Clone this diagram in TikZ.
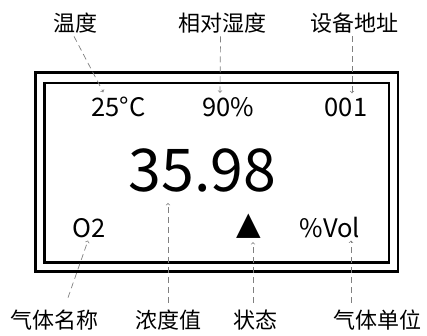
\documentclass[tikz,border=0pt]{standalone}
\usepackage{fontspec}
\setmainfont{Noto Sans CJK SC}
\newfontfamily\symfont{DejaVu Sans}
\usetikzlibrary{arrows, calc}
\tikzstyle{frame} = [draw=black, line width=2.8pt]
\tikzstyle{caption} = [inner sep=0pt, font=\fontsize{22}{22}\selectfont]
\tikzstyle{reading} = [inner sep=0pt, anchor=base, font=\fontsize{25.5}{25.5}\selectfont]
\tikzstyle{bigreading} = [inner sep=0pt, anchor=base, font=\fontsize{59}{59}\selectfont]
\tikzstyle{arrow} = [->, >=to, draw=gray, line width=0.7pt, dash pattern=on 6pt off 4pt]

\begin{document}
\begin{tikzpicture}[x=1pt, y=-1pt]
	\useasboundingbox (0,0) rectangle (427,336);
	\draw [frame] (35.5,72.5) rectangle (398,271.5);
	\draw [frame] (44.5,83) rectangle (389,262.5);

	\node (temp) [reading] at (118.5,117) {25°C};
	\node (rh) [reading] at (228,117) {90\%};
	\node (addr) [reading] at (346,117) {001};
	\node (conc) [bigreading] at (202.5,192) {35.98};
	\node (gas) [reading] at (89,237) {O2};
	\node (state) [reading, font=\symfont\fontsize{32}{32}\selectfont] at (248.5,234) {▲};
	\node (unit) [reading] at (330,237) {\%Vol};

	\node (lbTemp) [caption] at (75,23) {温度};
	\node (lbRh) [caption] at (222.5,23) {相对湿度};
	\node (lbAddr) [caption] at (354,23) {设备地址};
	\node (lbGas) [caption] at (54,320) {气体名称};
	\node (lbConc) [caption] at (168,320) {浓度值};
	\node (lbState) [caption] at (255.5,320) {状态};
	\node (lbUnit) [caption] at (377.5,320) {气体单位};

	\draw [arrow] ($(lbTemp.south)+(-1,3)$) -- ($(temp.north west)+(12,-5)$);
	\draw [arrow] ($(lbRh.south)+(-2,3)$) -- ($(rh.north)+(-8,-5)$);
	\draw [arrow] ($(lbAddr.south)+(-2,3)$) -- ($(addr.north)+(6,-5)$);
	\draw [arrow] ($(lbGas.north)+(14,-12)$) -- ($(gas.south)+(-1,3)$);
	\draw [arrow] ($(lbConc.north)+(0,-7)$) -- ($(conc.south)+(-34.5,10)$);
	\draw [arrow] ($(lbState.north)+(-2.5,-7)$) -- ($(state.south)+(4.5,4)$);
	\draw [arrow] ($(lbUnit.north)+(-26.5,-7)$) -- ($(unit.south)+(21,3)$);
%	\draw [arrow] (lbConc) -- (conc);
\end{tikzpicture}
\end{document}
